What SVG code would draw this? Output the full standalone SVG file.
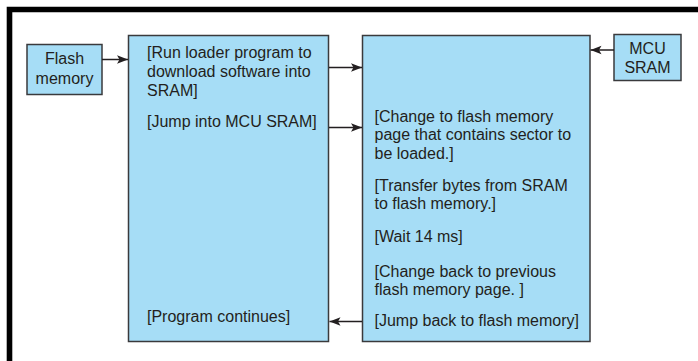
<svg xmlns="http://www.w3.org/2000/svg" width="698" height="361" viewBox="0 0 698 361">
  <defs>
    <marker id="arrow" markerUnits="userSpaceOnUse" markerWidth="12" markerHeight="10" viewBox="0 0 12 10" refX="11" refY="5" orient="auto">
      <path d="M0,0.8 L11,5 L0,9.2 L2.5,5 Z" fill="#231f20"/>
    </marker>
    <style>
      .box { fill: #a6ddf6; stroke: #3a3a3c; stroke-width: 1.5; }
      .lbl { font-family: "Liberation Sans", Arial, sans-serif; font-size: 16px; fill: #231f20; }
      .mid { text-anchor: middle; }
      .conn { stroke: #231f20; stroke-width: 1.5; fill: none; marker-end: url(#arrow); }
    </style>
  </defs>

  <rect width="698" height="361" fill="#ffffff"/>
  <!-- outer frame (top and left edges) -->
  <path d="M9.5,361 V9.5 H698" fill="none" stroke="#000000" stroke-width="5.6"/>

  <g id="flash-memory">
    <rect class="box" x="27" y="44.5" width="75" height="50"/>
    <text class="lbl mid" x="64.5" y="63.5">Flash</text>
    <text class="lbl mid" x="64.5" y="83.5">memory</text>
  </g>

  <g id="mcu-sram">
    <rect class="box" x="614" y="34.5" width="67" height="46"/>
    <text class="lbl mid" x="647.5" y="54">MCU</text>
    <text class="lbl mid" x="647.5" y="72.5">SRAM</text>
  </g>

  <g id="flash-program">
    <rect class="box" x="128.5" y="35.5" width="200" height="306"/>
    <text class="lbl" x="147" y="57.5">[Run loader program to</text>
    <text class="lbl" x="147" y="76.5">download software into</text>
    <text class="lbl" x="147" y="95.5">SRAM]</text>
    <text class="lbl" x="147" y="126.5">[Jump into MCU SRAM]</text>
    <text class="lbl" x="147" y="321.7">[Program continues]</text>
  </g>

  <g id="sram-program">
    <rect class="box" x="362.5" y="35.5" width="227.5" height="306"/>
    <text class="lbl" x="374.5" y="121.7">[Change to flash memory</text>
    <text class="lbl" x="374.5" y="140.2">page that contains sector to</text>
    <text class="lbl" x="374.5" y="158.7">be loaded.]</text>
    <text class="lbl" x="374.5" y="190.7">[Transfer bytes from SRAM</text>
    <text class="lbl" x="374.5" y="209.3">to flash memory.]</text>
    <text class="lbl" x="374.5" y="241.7">[Wait 14 ms]</text>
    <text class="lbl" x="374.5" y="276.7">[Change back to previous</text>
    <text class="lbl" x="374.5" y="295.2">flash memory page. ]</text>
    <text class="lbl" x="374.5" y="326.2">[Jump back to flash memory]</text>
  </g>

  <g id="connectors">
    <line class="conn" x1="102" y1="59.5" x2="128" y2="59.5"/>
    <line class="conn" x1="329" y1="67.5" x2="362" y2="67.5"/>
    <line class="conn" x1="329" y1="127.5" x2="362" y2="127.5"/>
    <line class="conn" x1="614" y1="50" x2="590.5" y2="50"/>
    <line class="conn" x1="362" y1="321.5" x2="329.5" y2="321.5"/>
  </g>
</svg>
